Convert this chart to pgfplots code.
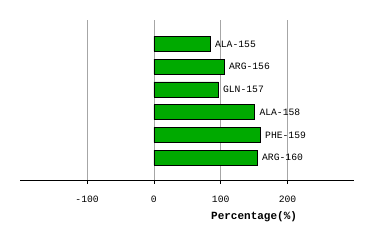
\documentclass[border=0pt]{standalone}
\usepackage{pgfplots}
\pgfplotsset{compat=1.18}
\usepackage{fontspec}
\setmonofont{Liberation Mono}
\definecolor{bargreen}{RGB}{0,170,0}
\begin{document}
\begin{tikzpicture}[x=1pt,y=1pt]
\path[use as bounding box] (0,0) rectangle (374,240);
\begin{axis}[
  at={(20.3pt,60pt)}, anchor=south west,
  scale only axis, width=334pt, height=160pt,
  xmin=-200, xmax=300, ymin=0.02, ymax=7.05,
  axis x line=bottom, axis y line=none,
  x axis line style={-, black, line width=0.8pt},
  xtick={-100,0,100,200},
  xmajorgrids, grid style={gray!70, line width=0.8pt},
  tick align=outside, major tick length=4pt,
  tick style={black, line width=0.8pt},
  ticklabel style={font=\ttfamily\fontsize{9.7}{10}\selectfont},
  xticklabel style={yshift=-8pt},
  /pgf/number format/assume math mode=true,
  xlabel={Percentage(\%)},
  xlabel style={at={(axis description cs:0.7,0)}, anchor=center, yshift=-37pt, font=\ttfamily\bfseries\fontsize{11}{12}\selectfont},
  xbar, bar width=15pt,
  nodes near coords, point meta=explicit symbolic,
  every node near coord/.append style={font=\ttfamily\fontsize{9.7}{10}\selectfont, anchor=west, xshift=1pt},
  clip=false,
]
\addplot[fill=bargreen, draw=black, line width=0.8pt] coordinates {
  (84.5,6) [ALA-155]
  (105.5,5) [ARG-156]
  (96.5,4) [GLN-157]
  (151,3) [ALA-158]
  (159.5,2) [PHE-159]
  (155,1) [ARG-160]
};
\end{axis}
\end{tikzpicture}
\end{document}
